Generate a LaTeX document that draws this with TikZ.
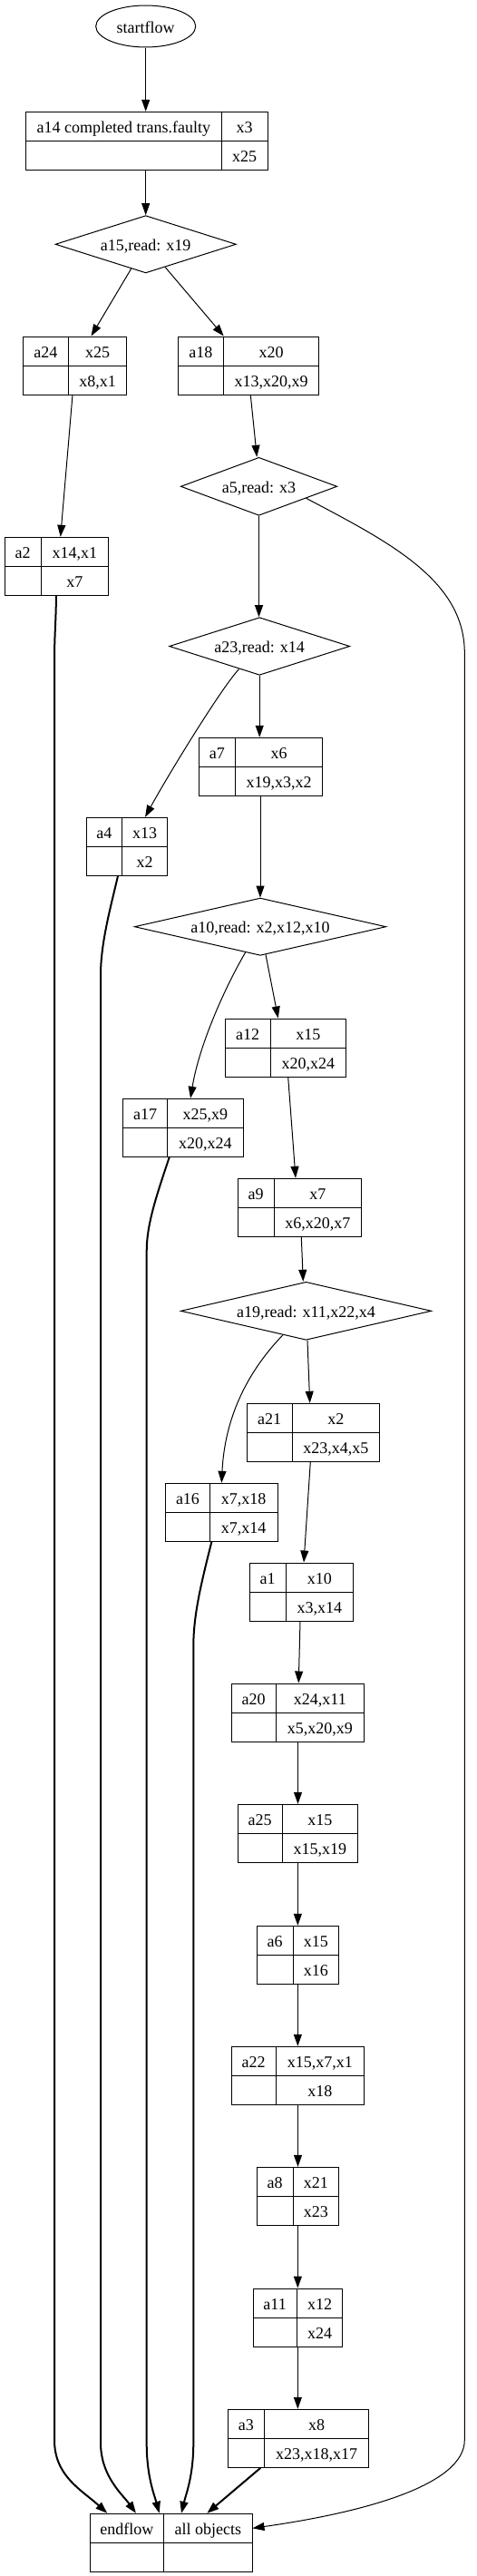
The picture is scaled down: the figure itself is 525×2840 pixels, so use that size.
\documentclass[tikz,border=0pt]{standalone}
\usepackage{fontspec}
\setmainfont{Liberation Serif}
\usetikzlibrary{arrows.meta,shapes.geometric}
\tikzset{
 txt/.style={inner sep=0pt, text height=14pt, text depth=0pt, font=\fontsize{18}{20}\selectfont},
 recbox/.style={draw, line width=1pt, rectangle, inner sep=0pt},
 dia/.style={draw, line width=1pt, diamond, inner sep=0pt},
 flow/.style={line width=1pt, -{Triangle[length=13pt,width=9pt]}},
 boldflow/.style={line width=2pt, -{Triangle[length=13pt,width=9pt]}},
 cellline/.style={line width=1pt},
}
\newcommand{\recnode}[8]{%
 \node[recbox, minimum width={(#5)-(#2)}, minimum height=64pt] (#1) at ({((#2)+(#5))/2},{(#3)+32}) {};
 \draw[cellline] (#4,#3) -- (#4,{(#3)+64});
 \draw[cellline] (#2,{(#3)+32}) -- (#5,{(#3)+32});
 \node[txt] (#1-l) at ({((#2)+(#4))/2},{(#3)+16}) {#6};
 \node[txt] (#1-t) at ({((#4)+(#5))/2},{(#3)+16}) {#7};
 \node[txt] (#1-b) at ({((#4)+(#5))/2},{(#3)+48}) {#8};
}
\newcommand{\dianode}[6]{%
 \node[dia, minimum width=#4pt, minimum height=#5pt] (#1) at (#2,#3) {};
 \node[txt] (#1-t) at (#1.center) {#6};
}
\begin{document}
\begin{tikzpicture}[x=1pt,y=-1pt]
\fill[white] (0,0) rectangle (525,2840);
\useasboundingbox (0,0) rectangle (525,2840);

\node[draw, ellipse, line width=1pt, minimum width=110pt, minimum height=46pt, txt] (start) at (160.7,29) {startflow};
\recnode{a14}{28.3}{123.3}{244.3}{295}{a14 completed trans.faulty}{x3}{x25}
\dianode{a15}{160.7}{269.3}{199.3}{63.3}{a15,read: x19}
\recnode{a24}{25.3}{371}{75.3}{139.7}{a24}{x25}{x8,x1}
\recnode{a18}{196.3}{371}{246.3}{351.7}{a18}{x20}{x13,x20,x9}
\dianode{a5}{285.5}{536.3}{172.4}{64}{a5,read: x3}
\recnode{a2}{5.3}{592.3}{45}{119.7}{a2}{x14,x1}{x7}
\dianode{a23}{286.2}{712.5}{199}{63.6}{a23,read: x14}
\recnode{a7}{219.3}{813.3}{259.3}{355.7}{a7}{x6}{x19,x3,x2}
\recnode{a4}{95}{901.3}{134.7}{184.7}{a4}{x13}{x2}
\dianode{a10}{287}{1021.7}{277.4}{63.3}{a10,read: x2,x12,x10}
\recnode{a12}{248.3}{1123}{298}{381.7}{a12}{x15}{x20,x24}
\recnode{a17}{135.7}{1211.3}{184.7}{268}{a17}{x25,x9}{x20,x24}
\recnode{a9}{262.3}{1299.3}{302}{398.7}{a9}{x7}{x6,x20,x7}
\dianode{a19}{337.5}{1445.3}{276.4}{64}{a19,read: x11,x22,x4}
\recnode{a21}{272}{1547.3}{322.3}{418.3}{a21}{x2}{x23,x4,x5}
\recnode{a16}{182.7}{1635.3}{231.3}{306}{a16}{x7,x18}{x7,x14}
\recnode{a1}{275}{1723}{315}{389.7}{a1}{x10}{x3,x14}
\recnode{a20}{255.3}{1856}{304}{401.7}{a20}{x24,x11}{x5,x20,x9}
\recnode{a25}{262}{1989.3}{311}{394.7}{a25}{x15}{x15,x19}
\recnode{a6}{283}{2123.3}{323}{373.7}{a6}{x15}{x16}
\recnode{a22}{255.3}{2256.3}{304}{401.7}{a22}{x15,x7,x1}{x18}
\recnode{a8}{283}{2389.3}{323}{373.7}{a8}{x21}{x23}
\recnode{a11}{279}{2523}{327.3}{377.7}{a11}{x12}{x24}
\recnode{a3}{251.3}{2656.3}{291.3}{406.7}{a3}{x8}{x23,x18,x17}
\recnode{endf}{99}{2771.3}{180.7}{278}{endflow}{all objects}{}

% thin connectors
\draw[flow] (start.south) -- (start.south |- a14.north);
\draw[flow] (a15.north |- a14.south) -- (a15.north);
\draw[flow] (a15) -- ([xshift=18pt]a24.north);
\draw[flow] (a15) -- ([xshift=-27.3pt]a18.north);
\draw[flow] ([xshift=-2.5pt]a24.south) -- ([xshift=4.2pt]a2.north);
\draw[flow] ([xshift=2.3pt]a18.south) -- ([xshift=-2.2pt]a5.north);
\draw[flow] (a5.south) -- (a5.south |- a23.north);
\draw[flow] (a5.-14) .. controls (430,598) and (512.3,640) .. (512.3,720) -- (512.3,2690) .. controls (512.3,2740) and (400,2770) .. ([yshift=16pt]endf.east);
\draw[flow] (a23.south) -- (a23.south |- a7.north);
\draw[flow] (a23.-132) .. controls (245,757) and (185,855) .. ([xshift=20.2pt]a4.north);
\draw[flow] (a10.north |- a7.south) -- (a10.north);
\draw[flow] (a10) -- ([xshift=-8.3pt]a12.north);
\draw[flow] (a10.-120) .. controls (250,1085) and (220,1150) .. ([xshift=8.2pt]a17.north);
\draw[flow] ([xshift=2.7pt]a12.south) -- ([xshift=-4.5pt]a9.north);
\draw[flow] ([xshift=1.8pt]a9.south) -- ([xshift=-3.2pt]a19.north);
\draw[flow] ([xshift=1.5pt]a19.south) -- ([xshift=-3.45pt]a21.north);
\draw[flow] (a19.-134) .. controls (275,1510) and (248,1560) .. (a16.north);
\draw[flow] ([xshift=-2.85pt]a21.south) -- ([xshift=2.65pt]a1.north);
\draw[flow] ([xshift=-1.35pt]a1.south) -- ([xshift=0.8pt]a20.north);
\draw[flow] (a20.south) -- (a20.south |- a25.north);
\draw[flow] (a25.south) -- (a25.south |- a6.north);
\draw[flow] (a6.south) -- (a6.south |- a22.north);
\draw[flow] (a22.south) -- (a22.south |- a8.north);
\draw[flow] (a8.south) -- (a8.south |- a11.north);
\draw[flow] (a11.south) -- (a11.south |- a3.north);

% thick connectors into endflow
\draw[boldflow] ([xshift=-41.7pt]a3.south) -- ([xshift=39.8pt]endf.north);
\draw[boldflow] ([xshift=-0.5pt]a2.south) .. controls (61.5,690) and (60,700) .. (60,730) -- (60,2690) .. controls (60,2730) and (90,2745) .. ([xshift=-70.2pt]endf.north);
\draw[boldflow] ([xshift=-9.85pt]a4.south) .. controls (122,1000) and (111,1040) .. (111,1075) -- (111,2693) .. controls (111,2730) and (135,2750) .. ([xshift=-38.5pt]endf.north);
\draw[boldflow] ([xshift=-15.15pt]a17.south) .. controls (172,1320) and (161.7,1350) .. (161.7,1380) -- (161.7,2693) .. controls (161.7,2730) and (170,2750) .. ([xshift=-12.8pt]endf.north);
\draw[boldflow] ([xshift=-11pt]a16.south) .. controls (222,1745) and (213.3,1780) .. (213.3,1815) -- (213.3,2693) .. controls (213.3,2730) and (205,2750) .. ([xshift=11.5pt]endf.north);
\end{tikzpicture}
\end{document}
